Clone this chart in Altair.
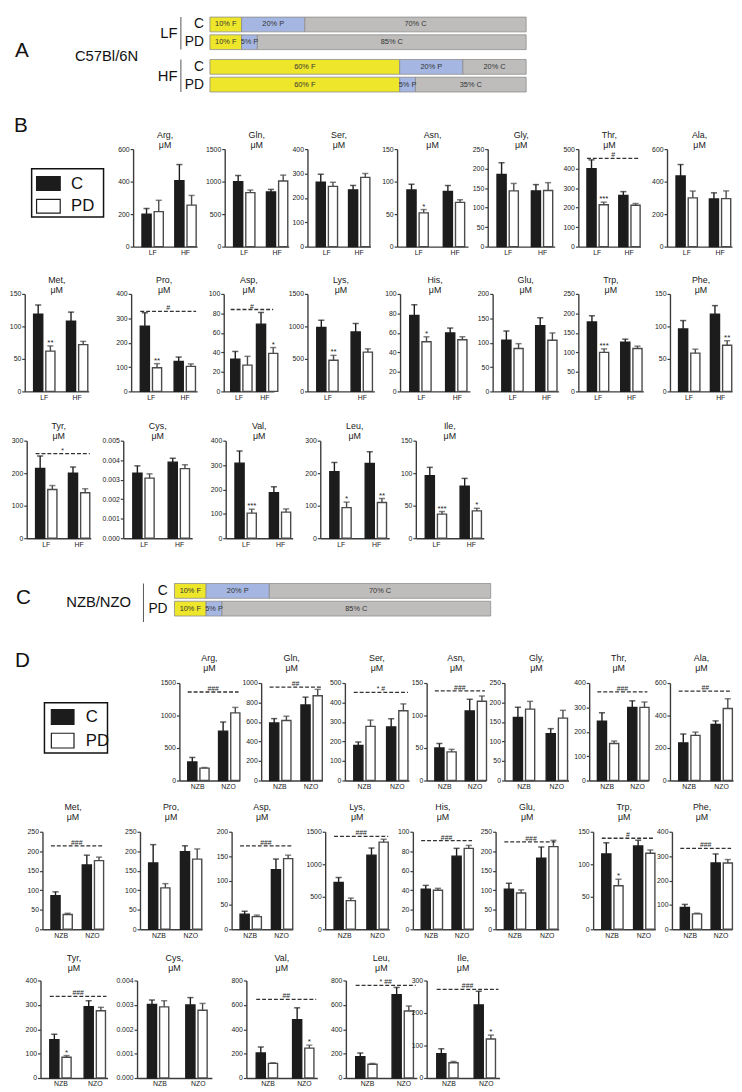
import altair as alt
import pandas as pd

FONT = "Liberation Sans Narrow, Liberation Sans, Arial, sans-serif"
FONT_REG = "Liberation Sans, Arial, sans-serif"

DIETS = ["C", "PD"]
MACROS = ["F", "P", "C"]
MACRO_COLORS = ["#EDE62A", "#A4B6E1", "#BEBDBB"]
BAR_FILL = ["#1c1c1c", "#ffffff"]
BAR_STROKE = ["#1c1c1c", "#4a4a4a"]

# ---------------- Panel A / C : diet composition (%) ----------------
A_GROUPS = ["LF", "HF"]
A_LF_F = [10, 10]
A_LF_P = [20, 5]
A_LF_C = [70, 85]
A_HF_F = [60, 60]
A_HF_P = [20, 5]
A_HF_C = [20, 35]

C_GROUPS = ["NZB/NZO"]
C_F = [10, 10]
C_P = [20, 5]
C_C = [70, 85]

# ---------------- Panel B : C57Bl/6N, order [LF C, LF PD, HF C, HF PD] ----------------
B_GROUPS = ["LF", "HF"]
B_ROW1 = ["Arg", "Gln", "Ser", "Asn", "Gly", "Thr", "Ala"]
B_ROW2 = ["Met", "Pro", "Asp", "Lys", "His", "Glu", "Trp", "Phe"]
B_ROW3 = ["Tyr", "Cys", "Val", "Leu", "Ile"]
B_MEAN = {
    "Arg": [200, 215, 405, 255], "Gln": [1000, 830, 840, 1010], "Ser": [264, 247, 233, 284],
    "Asn": [87, 52, 85, 68], "Gly": [185, 143, 143, 144], "Thr": [400, 215, 262, 212],
    "Ala": [435, 300, 293, 295], "Met": [119, 62, 108, 72], "Pro": [268, 97, 123, 103],
    "Asp": [33, 27, 69, 39], "Lys": [985, 480, 915, 605], "His": [78, 51, 60, 53],
    "Glu": [105, 88, 135, 105], "Trp": [178, 100, 126, 110], "Phe": [96, 59, 119, 71],
    "Tyr": [215, 150, 200, 140], "Cys": [0.00333, 0.00308, 0.0039, 0.00357],
    "Val": [308, 103, 187, 107], "Leu": [205, 94, 230, 110], "Ile": [96, 37, 80, 42],
}
B_SEM = {
    "Arg": [35, 70, 100, 60], "Gln": [95, 40, 40, 90], "Ser": [33, 17, 18, 16],
    "Asn": [9, 5, 9, 4], "Gly": [30, 19, 16, 20], "Thr": [45, 13, 20, 9],
    "Ala": [70, 42, 38, 48], "Met": [14, 8, 14, 5], "Pro": [55, 17, 18, 10],
    "Asp": [8, 9, 12, 6], "Lys": [110, 75, 130, 50], "His": [11, 5, 5, 3],
    "Glu": [19, 10, 16, 15], "Trp": [16, 9, 8, 6], "Phe": [13, 6, 13, 7],
    "Tyr": [38, 12, 19, 12], "Cys": [0.00038, 0.00022, 0.0002, 0.0002],
    "Val": [50, 16, 24, 13], "Leu": [28, 17, 36, 12], "Ile": [13, 4, 12, 4],
}
B_STARS = {
    "Asn": ["", "*", "", ""], "Thr": ["", "***", "", ""], "Met": ["", "**", "", ""],
    "Pro": ["", "**", "", ""], "Asp": ["", "", "", "*"], "Lys": ["", "**", "", ""],
    "His": ["", "*", "", ""], "Trp": ["", "***", "", ""], "Phe": ["", "", "", "**"],
    "Val": ["", "***", "", ""], "Leu": ["", "*", "", "**"], "Ile": ["", "***", "", "*"],
}
B_DASH = {"Thr": (452, "#"), "Pro": (328, "#"), "Asp": (84, "#"), "Tyr": (260, "*")}
B_YMAX = {"Arg": 600, "Gln": 1500, "Ser": 400, "Asn": 150, "Gly": 250, "Thr": 500, "Ala": 600,
          "Met": 150, "Pro": 400, "Asp": 100, "Lys": 1500, "His": 100, "Glu": 200, "Trp": 250,
          "Phe": 150, "Tyr": 300, "Cys": 0.005, "Val": 400, "Leu": 300, "Ile": 150}
B_YSTEP = {"Arg": 200, "Gln": 500, "Ser": 100, "Asn": 50, "Gly": 50, "Thr": 100, "Ala": 200,
           "Met": 50, "Pro": 100, "Asp": 20, "Lys": 500, "His": 20, "Glu": 50, "Trp": 50,
           "Phe": 50, "Tyr": 100, "Cys": 0.001, "Val": 100, "Leu": 100, "Ile": 50}

# ---------------- Panel D : NZB / NZO, order [NZB C, NZB PD, NZO C, NZO PD] ----------------
D_GROUPS = ["NZB", "NZO"]
D_ROW1 = ["Arg", "Gln", "Ser", "Asn", "Gly", "Thr", "Ala"]
D_ROW2 = ["Met", "Pro", "Asp", "Lys", "His", "Glu", "Trp", "Phe"]
D_ROW3 = ["Tyr", "Cys", "Val", "Leu", "Ile"]
D_MEAN = {
    "Arg": [285, 190, 760, 1040], "Gln": [590, 615, 775, 870], "Ser": [180, 278, 275, 358],
    "Asn": [50, 44, 107, 122], "Gly": [162, 183, 120, 160], "Thr": [243, 152, 300, 300],
    "Ala": [232, 278, 345, 443], "Met": [86, 38, 165, 176], "Pro": [170, 106, 199, 180],
    "Asp": [31, 26, 122, 145], "Lys": [720, 440, 1140, 1340], "His": [41, 40, 75, 83],
    "Glu": [103, 93, 182, 212], "Trp": [116, 67, 128, 117], "Phe": [90, 63, 272, 272],
    "Tyr": [157, 85, 293, 276], "Cys": [0.00302, 0.00292, 0.0030, 0.00278],
    "Val": [205, 120, 478, 245], "Leu": [175, 113, 683, 550], "Ile": [75, 47, 225, 120],
}
D_SEM = {
    "Arg": [70, 10, 140, 85], "Gln": [45, 45, 80, 65], "Ser": [17, 32, 42, 35],
    "Asn": [7, 4, 18, 8], "Gly": [26, 20, 13, 20], "Thr": [35, 10, 27, 22],
    "Ala": [55, 20, 22, 60], "Met": [10, 3, 25, 9], "Pro": [47, 11, 15, 26],
    "Asp": [6, 3, 22, 7], "Lys": [75, 40, 110, 45], "His": [4, 2, 8, 3],
    "Glu": [15, 8, 29, 16], "Trp": [17, 10, 9, 5], "Phe": [12, 3, 37, 14],
    "Tyr": [23, 7, 24, 14], "Cys": [0.00018, 0.00025, 0.0003, 0.00028],
    "Val": [50, 5, 98, 25], "Leu": [30, 7, 60, 40], "Ile": [15, 4, 42, 12],
}
D_STARS = {"Trp": ["", "*", "", ""], "Tyr": ["", "*", "", ""],
           "Val": ["", "", "", "*"], "Ile": ["", "", "", "*"]}
D_DASH = {"Arg": (1362, "###"), "Gln": (958, "##"), "Ser": (452, "* #"), "Asn": (138, "###"),
          "Thr": (364, "###"), "Ala": (550, "##"), "Met": (214, "###"), "Asp": (171, "###"),
          "Lys": (1430, "###"), "His": (91, "###"), "Glu": (224, "###"), "Trp": (140, "#"),
          "Phe": (332, "###"), "Tyr": (335, "###"), "Val": (645, "##"), "Leu": (760, "* ##"),
          "Ile": (273, "###")}
D_YMAX = {"Arg": 1500, "Gln": 1000, "Ser": 500, "Asn": 150, "Gly": 250, "Thr": 400, "Ala": 600,
          "Met": 250, "Pro": 250, "Asp": 200, "Lys": 1500, "His": 100, "Glu": 250, "Trp": 150,
          "Phe": 400, "Tyr": 400, "Cys": 0.004, "Val": 800, "Leu": 800, "Ile": 300}
D_YSTEP = {"Arg": 500, "Gln": 200, "Ser": 100, "Asn": 50, "Gly": 50, "Thr": 100, "Ala": 200,
           "Met": 50, "Pro": 50, "Asp": 50, "Lys": 500, "His": 20, "Glu": 50, "Trp": 50,
           "Phe": 100, "Tyr": 100, "Cys": 0.001, "Val": 200, "Leu": 200, "Ile": 100}

# ---------------- layout (pixels) ----------------
PLOT_H = 99
PAD_IN = 0.35
PAD_OUT = 0.15
B1_X = [121, 214, 298, 389, 481, 573, 663]; B1_W = [65, 65, 64, 72, 68, 63, 66]
B2_X = [11, 119, 213, 298, 392, 486, 573, 666]; B2_W = [65, 67, 51, 68, 71, 67, 66, 63]
B3_X = [13, 111, 215, 311, 408]; B3_W = [65, 70, 68, 70, 69]
D1_X = [168, 251, 336, 419, 498, 584, 666]; D1_W = [61, 62, 65, 60, 65, 60, 64]
D2_X = [29, 128, 221, 316, 405, 489, 588, 668]; D2_W = [62, 63, 62, 65, 61, 64, 63, 61]
D3_X = [27, 125, 236, 337, 419]; D3_W = [68, 76, 72, 72, 74]
V_GAPS = [22, 19, 20, 35, 27, 12, 14]

SPACER_DF = pd.DataFrame({"s": [0]})


def spacer(w, h):
    return alt.Chart(SPACER_DF).mark_point(opacity=0, size=0).properties(width=w, height=h)


def build_row(items):
    parts = []
    cur = 0
    for x, ch, w in items:
        gap = x - cur
        if gap > 0:
            parts.append(spacer(gap, 1))
        parts.append(ch)
        cur = x + w
    return alt.hconcat(*parts, spacing=0, bounds="flush")


def text_chart(txt, x, y, size, align="left", font=FONT_REG):
    return alt.Chart(pd.DataFrame({"t": [txt]})).mark_text(
        align=align, baseline="middle", fontSize=size, font=font, color="#111"
    ).encode(x=alt.value(x), y=alt.value(y), text="t:N")


def diet_df(groups, comps):
    rows = []
    for g in groups:
        f, p, c = comps[g]
        for di, d in enumerate(DIETS):
            for oi, (m, vals) in enumerate(zip(MACROS, (f, p, c))):
                rows.append(dict(group=g, diet=d, macro=m, pct=vals[di], order=oi,
                                 label=f"{vals[di]}% {m}"))
    return pd.DataFrame(rows)


def diet_chart(df, groups, width, height, g_pad, d_pad, extra, line_x, glabel_x, dlabel_x,
               group_labels=True):
    base = alt.Chart(df).transform_stack(
        stack="pct", groupby=["group", "diet"],
        sort=[alt.SortField("order", order="ascending")], as_=["x0", "x1"])
    xs = alt.Scale(domain=[0, 100], nice=False, zero=True)
    ysc = alt.Scale(domain=groups, paddingInner=g_pad, paddingOuter=0)
    osc = alt.Scale(domain=DIETS, paddingInner=d_pad, paddingOuter=0)
    Y = alt.Y("group:N", scale=ysc, axis=None)
    YO = alt.YOffset("diet:N", scale=osc)
    bars = base.mark_bar(stroke="#8c8c8c", strokeWidth=0.8).encode(
        x=alt.X("x0:Q", scale=xs, axis=None), x2="x1:Q", y=Y, yOffset=YO,
        color=alt.Color("macro:N", scale=alt.Scale(domain=MACROS, range=MACRO_COLORS), legend=None))
    labels = base.transform_calculate(mid="(datum.x0 + datum.x1) / 2").mark_text(
        font=FONT, fontSize=7.5, color="#333").encode(
        x=alt.X("mid:Q", scale=xs, axis=None), y=Y, yOffset=YO, text="label:N")
    gdf = pd.DataFrame({"group": groups})
    bracket = alt.Chart(gdf).mark_rect(color="#555").encode(
        x=alt.value(line_x), x2=alt.value(line_x + 1), y=Y)
    dlab = alt.Chart(df).transform_filter(alt.datum.macro == "F").mark_text(
        align="right", fontSize=14, font=FONT_REG, color="#111").encode(
        x=alt.value(dlabel_x), y=Y, yOffset=YO, text="diet:N")
    layers = [bars, labels, bracket, dlab]
    if group_labels:
        layers.append(alt.Chart(gdf).mark_text(
            align="right", fontSize=15, font=FONT_REG, color="#111").encode(
            x=alt.value(glabel_x), y=Y, text="group:N"))
    layers += extra
    return alt.layer(*layers).properties(width=width, height=height)


def legend_panel(w, top, box_h, t0, band, gap, sw0, sw1, tx, letter, lx, ly):
    H = top + box_h
    step = band + gap
    extent = 2 * band + gap
    outer = H - extent
    ysc = alt.Scale(domain=DIETS, paddingInner=gap / step, paddingOuter=outer / (2 * step),
                    align=(top + t0) / outer)
    df = pd.DataFrame({"diet": DIETS})
    Y = alt.Y("diet:N", scale=ysc, axis=None)
    box = alt.Chart(SPACER_DF).mark_rect(fillOpacity=0, stroke="#111", strokeWidth=1.5).encode(
        x=alt.value(0), x2=alt.value(w), y=alt.value(top), y2=alt.value(H))
    sw = alt.Chart(df).mark_rect(strokeWidth=1.2, stroke="#1c1c1c").encode(
        x=alt.value(sw0), x2=alt.value(sw1), y=Y,
        fill=alt.Fill("diet:N", scale=alt.Scale(domain=DIETS, range=BAR_FILL), legend=None))
    tt = alt.Chart(df).mark_text(align="left", fontSize=17, font=FONT_REG, color="#111").encode(
        x=alt.value(tx), y=Y, text="diet:N")
    lt = text_chart(letter, lx, ly, 21)
    return alt.layer(box, sw, tt, lt).properties(width=w, height=H)


def aa_panel(name, groups, mean, sem, star, dash, ymax, ystep, width, title_offset, title_dy):
    df = pd.DataFrame({"grp": [groups[0], groups[0], groups[1], groups[1]],
                       "diet": DIETS * 2, "mean": mean, "sem": sem, "star": star})
    base = alt.Chart(df).transform_calculate(upper="datum.mean + datum.sem")
    xsc = alt.Scale(domain=groups, paddingInner=PAD_IN, paddingOuter=PAD_OUT, align=0.9)
    ysc = alt.Scale(domain=[0, ymax], nice=False, zero=True)
    n = int(round(ymax / ystep))
    ticks = [round(ystep * i, 6) for i in range(n + 1)]
    fmt = ".3f" if ymax < 1 else "d"
    xax = alt.Axis(title=None, ticks=False, labelAngle=0, labelFontSize=7, labelPadding=2,
                   labelFont=FONT)
    yax = alt.Axis(title=None, values=ticks, format=fmt, tickSize=3, labelFontSize=7,
                   labelPadding=1, labelFont=FONT)
    X = alt.X("grp:N", scale=xsc, axis=xax)
    XO = alt.XOffset("diet:N", scale=alt.Scale(domain=DIETS, paddingInner=0.25, paddingOuter=0))
    fill = alt.Fill("diet:N", scale=alt.Scale(domain=DIETS, range=BAR_FILL), legend=None)
    stroke = alt.Stroke("diet:N", scale=alt.Scale(domain=DIETS, range=BAR_STROKE), legend=None)
    bars = base.mark_bar(strokeWidth=1.4).encode(
        x=X, xOffset=XO, y=alt.Y("mean:Q", scale=ysc, axis=yax), fill=fill, stroke=stroke)
    err = base.mark_rule(strokeWidth=1.4).encode(
        x=X, xOffset=XO, y=alt.Y("mean:Q", scale=ysc, axis=yax), y2="upper:Q", stroke=stroke)
    cap = base.mark_tick(filled=False, thickness=0.3, size=5, strokeWidth=1.2,
                         orient="horizontal").encode(
        x=X, xOffset=XO, y=alt.Y("upper:Q", scale=ysc, axis=yax), stroke=stroke)
    layers = [bars, err, cap]
    if any(star):
        layers.append(base.transform_filter("datum.star != ''").mark_text(
            fontSize=8, font=FONT_REG, baseline="bottom", dy=1, color="#222").encode(
            x=X, xOffset=XO, y=alt.Y("upper:Q", scale=ysc, axis=yax), text="star:N"))
    if dash:
        ddf = pd.DataFrame({"g1": [groups[0]], "g2": [groups[1]], "yv": [dash[0]],
                            "lab": [dash[1]]})
        step = width / (2 - PAD_IN + 2 * PAD_OUT)
        half_gap = PAD_IN * step / 2
        layers.append(alt.Chart(ddf).mark_rule(strokeDash=[4, 2], strokeWidth=1.3,
                                               color="#333").encode(
            x=alt.X("g1:N", scale=xsc, axis=xax, bandPosition=0),
            x2=alt.X2("g2:N", bandPosition=1),
            y=alt.Y("yv:Q", scale=ysc, axis=yax)))
        layers.append(alt.Chart(ddf).mark_text(fontSize=7, font=FONT, baseline="bottom",
                                               dx=-half_gap, color="#222").encode(
            x=alt.X("g2:N", scale=xsc, axis=xax, bandPosition=0),
            y=alt.Y("yv:Q", scale=ysc, axis=yax), text="lab:N"))
    title = alt.TitleParams(text=[f"{name},", "μM"], fontSize=9, font=FONT_REG,
                            fontWeight="normal", offset=title_offset, dy=title_dy,
                            anchor="middle", frame="group", lineHeight=10, color="#1a1a1a")
    return alt.layer(*layers).properties(width=width, height=PLOT_H, title=title)


def aa_row(names, groups, means, sems, stars, dashes, ymaxs, ysteps, xs, ws, toff, tdy,
           lead=None):
    items = []
    if lead is not None:
        items.append(lead)
    for nm, x, w in zip(names, xs, ws):
        ch = aa_panel(nm, groups, means[nm], sems[nm], stars.get(nm, ["", "", "", ""]),
                      dashes.get(nm), ymaxs[nm], ysteps[nm], w, toff, tdy)
        items.append((x, ch, w))
    return build_row(items)


# ---------------- Panel A ----------------
dfA = diet_df(A_GROUPS, {"LF": (A_LF_F, A_LF_P, A_LF_C), "HF": (A_HF_F, A_HF_P, A_HF_C)})
chartA = diet_chart(dfA, A_GROUPS, 321, 76, 0.233, 0.167,
                    [text_chart("A", -198, 35, 21), text_chart("C57Bl/6N", -105, 40, 15, "center")],
                    line_x=-30, glabel_x=-33, dlabel_x=-6)
rowA = build_row([(199, chartA, 321)])

# ---------------- Panel C ----------------
dfC = diet_df(C_GROUPS, {"NZB/NZO": (C_F, C_P, C_C)})
chartC = diet_chart(dfC, C_GROUPS, 321, 39, 0, 0.14,
                    [text_chart("C", -161, 15, 21), text_chart("NZB/NZO", -77, 19, 15, "center")],
                    line_x=-32, glabel_x=-34, dlabel_x=-7, group_labels=False)
rowC = build_row([(163, chartC, 321)])

# ---------------- Panel B rows ----------------
legB = legend_panel(73, 20, 49, 8, 14, 9, 5, 29, 40, "B", -18, -23)
rowB1 = aa_row(B_ROW1, B_GROUPS, B_MEAN, B_SEM, B_STARS, B_DASH, B_YMAX, B_YSTEP,
               B1_X, B1_W, 0, 5, lead=(18, legB, 73))
rowB2 = aa_row(B_ROW2, B_GROUPS, B_MEAN, B_SEM, B_STARS, B_DASH, B_YMAX, B_YSTEP,
               B2_X, B2_W, 0, 5)
rowB3 = aa_row(B_ROW3, B_GROUPS, B_MEAN, B_SEM, B_STARS, B_DASH, B_YMAX, B_YSTEP,
               B3_X, B3_W, 0, 4)

# ---------------- Panel D rows ----------------
legD = legend_panel(64, 20, 51, 7, 15, 9, 7, 30, 42, "D", -30, -22)
rowD1 = aa_row(D_ROW1, D_GROUPS, D_MEAN, D_SEM, D_STARS, D_DASH, D_YMAX, D_YSTEP,
               D1_X, D1_W, 6, 0, lead=(31, legD, 64))
rowD2 = aa_row(D_ROW2, D_GROUPS, D_MEAN, D_SEM, D_STARS, D_DASH, D_YMAX, D_YSTEP,
               D2_X, D2_W, 6, 0)
rowD3 = aa_row(D_ROW3, D_GROUPS, D_MEAN, D_SEM, D_STARS, D_DASH, D_YMAX, D_YSTEP,
               D3_X, D3_W, 4, 0)

rows = [rowA, rowB1, rowB2, rowB3, rowC, rowD1, rowD2, rowD3]
stack = [rows[0]]
for gap, r in zip(V_GAPS, rows[1:]):
    stack += [spacer(1, gap), r]

chart = alt.vconcat(*stack, spacing=0).properties(padding=0).configure_view(
    stroke="transparent").configure_axis(
    domainColor="#3c3c3c", domainWidth=1.4, tickColor="#3c3c3c", tickWidth=1.2,
    labelColor="#1a1a1a", grid=False,
).configure_title(font=FONT_REG, fontWeight="normal")

chart.save("out.html", embed_options={"renderer": "svg", "actions": False})
